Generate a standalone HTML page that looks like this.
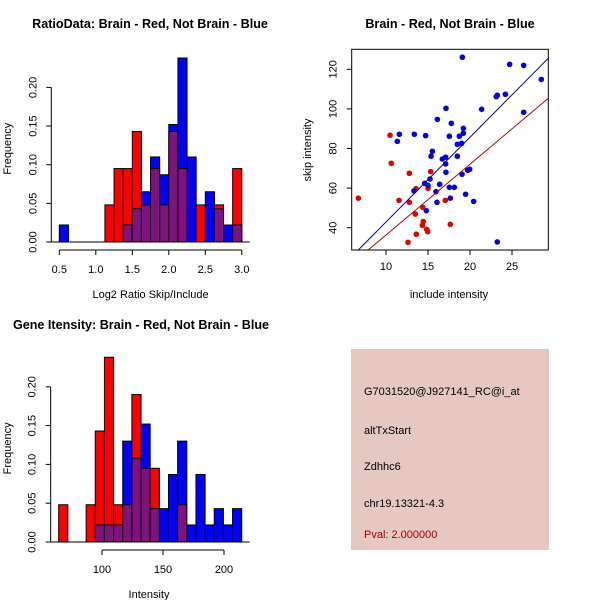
<!DOCTYPE html>
<html><head><meta charset="utf-8"><style>
body{margin:0;background:#fff;}
svg{display:block;font-family:"Liberation Sans",sans-serif;}
</style></head><body>
<svg id="chart" width="600" height="600" viewBox="0 0 600 600">
<rect width="600" height="600" fill="#fff"/>
<g font-weight="bold" font-size="12.6" text-anchor="middle">
<text x="150" y="28">RatioData: Brain - Red, Not Brain - Blue</text>
<text x="450" y="28">Brain - Red, Not Brain - Blue</text>
<text x="141" y="329">Gene Itensity: Brain - Red, Not Brain - Blue</text>
</g>
<g id="h1"></g>
<g id="sc"></g>
<g id="h2"></g>
<g font-size="11">
<rect x="351" y="349" width="198" height="201" fill="#e5c8c1"/>
<text x="364" y="395">G7031520@J927141_RC@i_at</text>
<text x="364" y="434">altTxStart</text>
<text x="364" y="470">Zdhhc6</text>
<text x="364" y="507">chr19.13321-4.3</text>
<text x="364" y="538" fill="#a00000">Pval: 2.000000</text>
</g>
</svg>
<script>
// Ratio histogram data (bins start 0.5, width 0.125)
const ratioBinStart = 0.5, ratioBinWidth = 0.125;
const ratioRed  = [0,0,0,0,0,0.048,0.095,0.095,0.143,0.048,0.095,0.048,0.143,0.095,0,0.048,0,0.048,0,0.095];
const ratioBlue = [0.022,0,0,0,0,0,0,0.022,0.043,0.065,0.11,0.087,0.152,0.238,0.11,0,0.065,0.043,0.022,0.022];
const ratioXTicks = ["0.5","1.0","1.5","2.0","2.5","3.0"];
const freqTicks = ["0.00","0.05","0.10","0.15","0.20"];
// Intensity histogram data (bins start 64.5, width 7.5)
const intBinStart = 64.5, intBinWidth = 7.5;
const intRed  = [0.048,0,0,0.048,0.143,0.238,0.048,0.048,0.19,0.095,0.095,0,0,0.048,0,0,0,0,0,0];
const intBlue = [0,0,0,0,0.022,0.022,0.022,0.13,0.108,0.152,0.043,0.043,0.087,0.13,0.022,0.087,0.022,0.043,0.022,0.043];
const intXTicks = ["100","150","200"];
// Scatter data
const blueX = [19.09,24.72,26.39,28.49,23.13,23.25,24.21,21.39,26.39,17.14,16.11,17.78,19.21,17.54,18.73,19.2,19.0,18.49,11.35,11.59,13.37,14.72,15.52,15.36,17.10,16.71,18.49,17.10,17.14,15.24,19.05,19.72,19.96,14.60,16.39,15.0,13.33,15.95,17.54,18.13,19.48,17.66,16.07,20.44,14.8,23.25];
const blueY = [126.1,122.5,122.0,114.9,106.2,106.9,107.4,99.8,98.3,100.3,94.7,92.7,90.2,86.2,86.2,87.7,82.6,82.1,83.6,87.2,87.2,86.5,78.6,76.1,75.6,74.7,76.1,72.2,68.0,64.6,67.0,69.0,69.5,62.4,61.9,61.4,58.6,58.2,60.4,60.4,56.9,54.9,52.8,53.3,48.6,32.8];
const redX = [6.71,10.48,10.63,12.78,15.32,15.0,11.55,12.78,17.06,13.57,13.49,14.37,14.44,14.33,14.84,14.96,13.61,12.62,17.66];
const redY = [54.9,86.7,72.5,67.5,68.3,59.9,53.8,52.8,53.8,59.7,46.9,50.3,43.1,41.2,39.2,38.0,36.7,32.6,41.7];
const fitSlope = [4.28, 3.574];
const fitIntercept = [0.08, 0.57];
const scXTicks = ["10","15","20","25"];
const scYTicks = ["40","60","80","100","120"];

const NS="http://www.w3.org/2000/svg";
function mk(tag, attrs, parent){const e=document.createElementNS(NS,tag);for(const k in attrs)e.setAttribute(k,attrs[k]);parent.appendChild(e);return e;}
const RED="#ff0000", BLUE="#0000ff", PURP="#7f127f";

function hist(g, red, blue, start, w, xs, ys, xTicks, xTickRange, yLabelX, xTitle, xTitleY, base){
  const y0=ys(0);
  for(let i=0;i<red.length;i++){
    const a=start+i*w, xa=xs(a), xb=xs(a+w);
    const r=red[i], b=blue[i], m=Math.min(r,b), mx=Math.max(r,b);
    if(mx<=0) continue;
    const top = mk('rect',{x:xa,y:ys(mx),width:xb-xa,height:y0-ys(mx),fill:r>=b?RED:BLUE,stroke:'#000','stroke-width':1},g);
    
    
    if(m>0){
      const o=mk('rect',{x:xa,y:ys(m),width:xb-xa,height:y0-ys(m),fill:PURP,stroke:'#000','stroke-width':1},g);
      
      
    }
  }
  const ax=xs(start)-8;
  mk('line',{x1:ax,y1:ys(0),x2:ax,y2:ys(0.2),stroke:'#000'},g);
  freqTicks.forEach(t=>{const y=ys(parseFloat(t));mk('line',{x1:ax-5,y1:y,x2:ax,y2:y,stroke:'#000'},g);
    const tx=mk('text',{x:ax-15,y:y,'font-size':11,'text-anchor':'middle',transform:`rotate(-90 ${ax-15} ${y})`},g);tx.textContent=t;});
  const cy=(ys(0)+ys(0.2))/2-16;
  const yl=mk('text',{x:yLabelX,y:cy,'font-size':11,'text-anchor':'middle',transform:`rotate(-90 ${yLabelX} ${cy})`},g);
  yl.textContent='Frequency';
  
  
  mk('line',{x1:ax,y1:y0,x2:xs(start+w*red.length)+8,y2:y0,stroke:'#000'},g);
  const xa=y0+8;
  mk('line',{x1:xs(xTickRange[0]),y1:xa,x2:xs(xTickRange[1]),y2:xa,stroke:'#000'},g);
  xTicks.forEach(t=>{const x=xs(parseFloat(t));mk('line',{x1:x,y1:xa,x2:x,y2:xa+5,stroke:'#000'},g);
    const tx=mk('text',{x:x,y:xa+23,'font-size':11,'text-anchor':'middle'},g);tx.textContent=t;});
  const xt=mk('text',{x:(xs(xTickRange[0])+xs(xTickRange[1]))/2+(base||0),y:xTitleY,'font-size':11,'text-anchor':'middle'},g);
  xt.textContent=xTitle;
  
  
}

{
  const xs=v=>59.3+(v-0.5)*73;
  const ys=v=>242-v*773;
  hist(document.getElementById('h1'),ratioRed,ratioBlue,ratioBinStart,ratioBinWidth,xs,ys,ratioXTicks,[0.5,3.0],11,'Log2 Ratio Skip/Include',298,0);
}
{
  const xs=v=>102+(v-100)*1.22;
  const ys=v=>542-v*776;
  hist(document.getElementById('h2'),intRed,intBlue,intBinStart,intBinWidth,xs,ys,intXTicks,[100,200],11,'Intensity',598,-14);
}
{
  const g=document.getElementById('sc');
  const xs=v=>386+(v-10)*8.4;
  const ys=v=>69.3-(v-120)*1.98;
  const L=351.7,R=548.3,T=49.3,B=250;
  const cp=mk('clipPath',{id:'scclip'},g); mk('rect',{x:L,y:T,width:R-L,height:B-T},cp);
  const inner=mk('g',{'clip-path':'url(#scclip)'},g);
  redX.forEach((x,i)=>{const c=mk('circle',{cx:xs(x),cy:ys(redY[i]),r:2.8,fill:'#e00000'},inner);
    
    });
  blueX.forEach((x,i)=>{const c=mk('circle',{cx:xs(x),cy:ys(blueY[i]),r:2.8,fill:'#0000e0'},inner);
    
    });
  const cols=['#00008b','#b00000'];
  fitSlope.forEach((s,i)=>{const x1=5,x2=32;
    const l=mk('line',{x1:xs(x1),y1:ys(fitIntercept[i]+s*x1),x2:xs(x2),y2:ys(fitIntercept[i]+s*x2),stroke:cols[i],'stroke-width':1},inner);
    
    });
  mk('rect',{x:L,y:T,width:R-L,height:B-T,fill:'none',stroke:'#000'},g);
  scXTicks.forEach(t=>{const x=xs(parseFloat(t));mk('line',{x1:x,y1:B,x2:x,y2:B+5,stroke:'#000'},g);
    const tx=mk('text',{x:x,y:B+20,'font-size':11,'text-anchor':'middle'},g);tx.textContent=t;});
  scYTicks.forEach(t=>{const y=ys(parseFloat(t));mk('line',{x1:L-5,y1:y,x2:L,y2:y,stroke:'#000'},g);
    const tx=mk('text',{x:L-15,y:y,'font-size':11,'text-anchor':'middle',transform:`rotate(-90 ${L-15} ${y})`},g);tx.textContent=t;});
  const xt=mk('text',{x:449,y:298,'font-size':11,'text-anchor':'middle'},g);xt.textContent='include intensity';
  
  
  const yt=mk('text',{x:311,y:150,'font-size':11,'text-anchor':'middle',transform:'rotate(-90 311 150)'},g);yt.textContent='skip intensity';
  
  
}
</script>
</body></html>
